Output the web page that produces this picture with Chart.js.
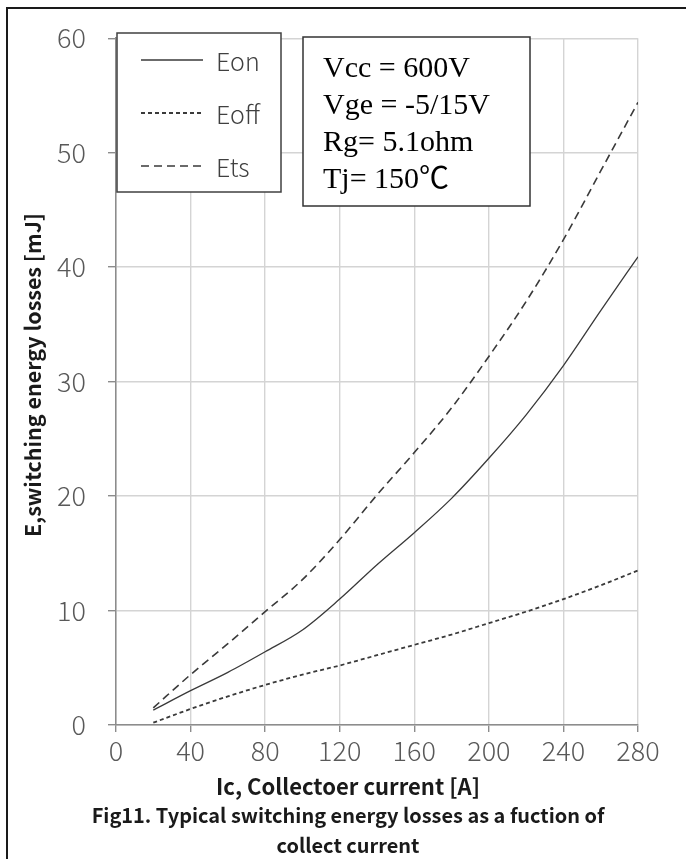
<!DOCTYPE html>
<html>
<head>
<meta charset="utf-8">
<script src="https://cdn.jsdelivr.net/npm/chart.js@4"></script>
<style>
  body { margin: 0; background: #fff; }
  #wrap { width: 686px; height: 859px; }
</style>
</head>
<body>
<div id="wrap"><canvas id="lossChart" width="686" height="859"></canvas></div>
<script>
// collector current [A]
var currents = [20, 40, 60, 80, 100, 120, 140, 160, 180, 200, 220, 240, 260, 280];
// switching energies [mJ]
var eonValues  = [1.3, 3.0, 4.6, 6.4, 8.3, 11.0, 14.0, 16.8, 19.8, 23.3, 27.1, 31.4, 36.2, 40.9];
var eoffValues = [0.2, 1.4, 2.5, 3.5, 4.4, 5.2, 6.1, 7.0, 7.9, 8.9, 9.9, 11.0, 12.2, 13.5];
var etsValues  = [1.5, 4.4, 7.1, 9.9, 12.7, 16.2, 20.1, 23.8, 27.7, 32.2, 37.0, 42.4, 48.4, 54.4];

var seriesNames = ['Eon', 'Eoff', 'Ets'];
var conditionLines = ['Vcc = 600V', 'Vge = -5/15V', 'Rg= 5.1ohm', 'Tj= 150\u2103'];
var xTitle = 'Ic, Collectoer current [A]';
var yTitle = 'E,switching energy losses [mJ]';
var captionLines = ['Fig11. Typical switching energy losses as a fuction of', 'collect current'];

var sans = "'Noto Sans CJK SC', 'Noto Sans', sans-serif";
var serif = "'Liberation Serif', 'Noto Sans CJK SC', serif";

var lineStyles = [
    { color: '#3a3a3a', width: 1.3, dash: [] },
    { color: '#3a3a3a', width: 1.8, dash: [4, 3] },
    { color: '#3a3a3a', width: 1.6, dash: [8, 5] }
];

function toPoints(values) {
    return currents.map(function (c, i) { return { x: c, y: values[i] }; });
}

function makeDataset(label, values, style) {
    return {
        label: label,
        data: toPoints(values),
        borderColor: style.color,
        borderWidth: style.width,
        borderDash: style.dash,
        pointRadius: 0,
        fill: false,
        cubicInterpolationMode: 'monotone'
    };
}

// picks the font size that makes text take the given width
function fitText(ctx, text, weight, family, targetWidth) {
    ctx.font = weight + ' 20px ' + family;
    var w = ctx.measureText(text).width;
    var size = 20 * targetWidth / w;
    ctx.font = weight + ' ' + size.toFixed(2) + 'px ' + family;
    return size;
}

var decorPlugin = {
    id: 'decor',
    afterDraw: function (chart) {
        var ctx = chart.ctx;
        ctx.save();

        // outer frame (left and top edges only, the picture is cropped)
        ctx.strokeStyle = '#1a1a1a';
        ctx.lineWidth = 2;
        ctx.beginPath();
        ctx.moveTo(7, 859);
        ctx.lineTo(7, 8);
        ctx.lineTo(686, 8);
        ctx.stroke();

        // legend box
        ctx.fillStyle = '#fff';
        ctx.fillRect(117, 33, 164, 159);
        ctx.strokeStyle = '#404040';
        ctx.lineWidth = 1.5;
        ctx.strokeRect(117, 33, 164, 159);
        var legendY = [60, 113, 166];
        for (var i = 0; i < seriesNames.length; i++) {
            var st = lineStyles[i];
            ctx.beginPath();
            ctx.setLineDash(st.dash);
            ctx.strokeStyle = st.color;
            ctx.lineWidth = st.width;
            ctx.moveTo(141, legendY[i]);
            ctx.lineTo(203, legendY[i]);
            ctx.stroke();
            ctx.setLineDash([]);
            ctx.fillStyle = '#404040';
            ctx.font = '300 25px ' + sans;
            ctx.textBaseline = 'middle';
            ctx.textAlign = 'left';
            ctx.fillText(seriesNames[i], 216, legendY[i] + 1);
        }

        // test conditions box
        ctx.fillStyle = '#fff';
        ctx.fillRect(303, 37, 227, 169);
        ctx.strokeStyle = '#333';
        ctx.lineWidth = 1.5;
        ctx.strokeRect(303, 37, 227, 169);
        ctx.fillStyle = '#000';
        ctx.font = '30px ' + serif;
        ctx.textBaseline = 'alphabetic';
        var condY = [77, 114, 151, 188];
        for (var j = 0; j < conditionLines.length; j++) {
            ctx.fillText(conditionLines[j], 323, condY[j]);
        }

        // axis titles and caption
        ctx.fillStyle = '#1a1a1a';
        ctx.textAlign = 'center';
        fitText(ctx, xTitle, 'bold', sans, 264);
        ctx.fillText(xTitle, 348, 795);
        fitText(ctx, captionLines[0], 'bold', sans, 513);
        ctx.fillText(captionLines[0], 348, 823);
        ctx.fillText(captionLines[1], 348, 853);

        ctx.translate(33, 375);
        ctx.rotate(-Math.PI / 2);
        ctx.textBaseline = 'middle';
        fitText(ctx, yTitle, 'bold', sans, 324);
        ctx.fillText(yTitle, 0, 0);

        ctx.restore();
    }
};

var tickFont = { family: sans, size: 27, weight: 300 };

new Chart(document.getElementById('lossChart'), {
    type: 'line',
    data: {
        datasets: [
            makeDataset(seriesNames[0], eonValues, lineStyles[0]),
            makeDataset(seriesNames[1], eoffValues, lineStyles[1]),
            makeDataset(seriesNames[2], etsValues, lineStyles[2])
        ]
    },
    options: {
        responsive: false,
        animation: false,
        layout: { padding: { left: 0, right: 48, top: 33, bottom: 0 } },
        plugins: {
            legend: { display: false },
            tooltip: { enabled: false }
        },
        scales: {
            x: {
                type: 'linear',
                min: 0,
                max: 280,
                afterFit: function (scale) { scale.height = 134; },
                ticks: { stepSize: 40, color: '#595959', font: tickFont, padding: 3, maxRotation: 0 },
                grid: { color: '#d4d4d4', lineWidth: 1.4, tickLength: 7, tickColor: '#8c8c8c' },
                border: { color: '#8c8c8c', width: 1.5 }
            },
            y: {
                min: 0,
                max: 60,
                afterFit: function (scale) { scale.width = 116; },
                ticks: { stepSize: 10, color: '#595959', font: tickFont, padding: 22 },
                grid: { color: '#d4d4d4', lineWidth: 1.4, tickLength: 8, tickColor: '#8c8c8c' },
                border: { color: '#8c8c8c', width: 1.5 }
            }
        }
    },
    plugins: [decorPlugin]
});
</script>
</body>
</html>
